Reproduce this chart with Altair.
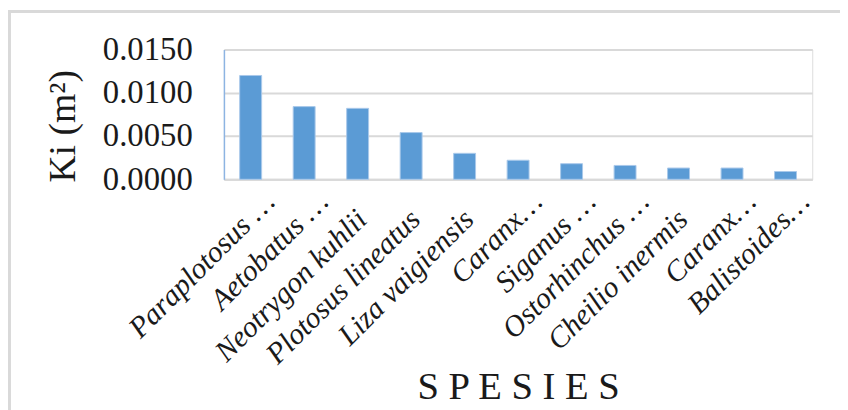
import json
import altair as alt
import pandas as pd

species = ["Paraplotosus …", "Aetobatus …", "Neotrygon kuhlii", "Plotosus lineatus",
           "Liza vaigiensis", "Caranx…", "Siganus …", "Ostorhinchus …",
           "Cheilio inermis", "Caranx…", "Balistoides…"]
ki = [0.0120, 0.0084, 0.0082, 0.0054, 0.0030, 0.0022, 0.0018, 0.0016, 0.0013, 0.0013, 0.0009]
y_ticks = [0.0, 0.005, 0.010, 0.015]

df = pd.DataFrame({"idx": list(range(len(species))), "sp": species, "ki": ki})

names_js = json.dumps(species, ensure_ascii=False)
label_expr = names_js + "[datum.value]"
trunc_test = "indexof(" + names_js + "[datum.value], '…') >= 0"

W, H = 594, 131
PL, PT = 218, 40

bars = alt.Chart(df).mark_bar(color="#5b9bd5", stroke="#a9c8ea", strokeWidth=1).encode(
    x=alt.X("idx:O",
            scale=alt.Scale(paddingInner=0.59, paddingOuter=0.295),
            axis=alt.Axis(title="S P E S I E S", labelExpr=label_expr, labelAngle=-45,
                          labelFont="Liberation Serif", labelFontStyle="italic",
                          labelFontSize=30, labelColor="#1a1a1a",
                          labelPadding={"condition": {"test": trunc_test, "value": 7}, "value": 25},
                          labelOffset={"condition": {"test": trunc_test, "value": 9}, "value": -6},
                          labelOverlap=False, labelLimit=400,
                          ticks=False, domainColor="#d9d9d9", domainWidth=2,
                          titleFont="Liberation Serif", titleFontSize=39,
                          titleFontWeight="normal", titleColor="#1a1a1a",
                          titleX=297, titleY=221, titleBaseline="alphabetic",
                          titleAlign="center")),
    y=alt.Y("ki:Q",
            scale=alt.Scale(domain=[0, 0.015], nice=False),
            axis=alt.Axis(title="Ki (m²)", values=y_ticks, format=".4f",
                          labelFont="Liberation Serif", labelFontSize=33,
                          labelColor="#1a1a1a", labelPadding=32, ticks=False,
                          domainColor="#8db4e2", domainWidth=1.5,
                          gridColor="#d9d9d9", gridWidth=2,
                          titleFont="Liberation Serif", titleFontSize=38,
                          titleFontWeight="normal", titleColor="#1a1a1a",
                          titleX=-151, titleY=77, titleAngle=-90,
                          titleBaseline="alphabetic", titleAlign="center")),
)

frame_src = alt.Data(values=[{"a": 1}])
top_line = alt.Chart(frame_src).mark_rule(color="#d9d9d9", strokeWidth=3).encode(
    x=alt.value(-PL), x2=alt.value(W + 40), y=alt.value(-PT + 1.5))
left_line = alt.Chart(frame_src).mark_rule(color="#d9d9d9", strokeWidth=3).encode(
    x=alt.value(-PL + 1.5), y=alt.value(-PT), y2=alt.value(H + 240))

chart = alt.layer(top_line, left_line, bars).properties(
    width=W, height=H,
    autosize=alt.AutoSizeParams(type="none"),
    padding={"left": PL, "top": PT, "right": 28, "bottom": 231},
).configure_view(stroke=None).configure(background="white")

chart.save("out.html", embed_options={"renderer": "svg", "actions": False})
